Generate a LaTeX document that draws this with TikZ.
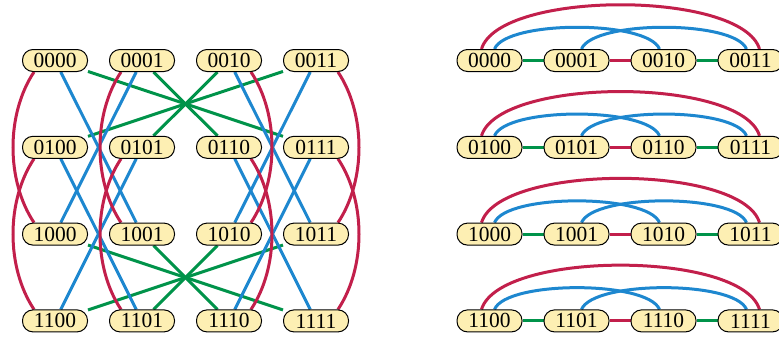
\documentclass[tikz,border=0pt]{standalone}
\usepackage{fontspec}
\setmainfont{Liberation Serif}
\usetikzlibrary{backgrounds}

\definecolor{hred}{HTML}{C21F4B}
\definecolor{hblue}{HTML}{1D87CF}
\definecolor{hgreen}{HTML}{00934A}
\definecolor{bitfill}{HTML}{FDEFB3}

\tikzset{
  bit/.style={draw=black, line width=1pt, fill=bitfill, rounded corners=10.5pt,
    minimum width=65pt, minimum height=22pt, inner sep=0pt,
    font=\fontsize{21.5}{21.5}\selectfont},
  redline/.style={draw=hred, line width=3pt},
  blueline/.style={draw=hblue, line width=3pt},
  greenline/.style={draw=hgreen, line width=3pt},
}

\begin{document}
\begin{tikzpicture}[x=1pt, y=-1pt]
\useasboundingbox (0,0) rectangle (779,338);

% grid layout on the left, chain layout on the right
\foreach \lbl/\c/\r in {0000/0/0,0001/1/0,0010/2/0,0011/3/0,
                        0100/0/1,0101/1/1,0110/2/1,0111/3/1,
                        1000/0/2,1001/1/2,1010/2/2,1011/3/2,
                        1100/0/3,1101/1/3,1110/2/3,1111/3/3}{
  \node[bit] (L\lbl) at ({55+87*\c}, {60.5+86.8*\r}) {\lbl};
}
\foreach \lbl/\c/\r in {0000/0/0,0001/1/0,0010/2/0,0011/3/0,
                        0100/0/1,0101/1/1,0110/2/1,0111/3/1,
                        1000/0/2,1001/1/2,1010/2/2,1011/3/2,
                        1100/0/3,1101/1/3,1110/2/3,1111/3/3}{
  \node[bit] (R\lbl) at ({489.5+87*\c}, {60.5+86.8*\r}) {\lbl};
}

\begin{scope}[on background layer]
  % green diagonals through the two crossing points
  \foreach \a/\b in {0000/0111,0001/0110,0010/0101,0011/0100,
                     1000/1111,1001/1110,1010/1101,1011/1100}{
    \draw[greenline] (L\a) -- (L\b);
  }
  % blue crossings between rows
  \foreach \a/\b in {0000/1001,0001/1000,0100/1101,0101/1100,
                     0010/1011,0011/1010,0110/1111,0111/1110}{
    \draw[blueline] (L\a) -- (L\b);
  }
  % red arcs bulging to the left
  \foreach \a/\b in {0000/1000,0100/1100,0001/1001,0101/1101}{
    \draw[redline] ([xshift=-21pt]L\a.south) .. controls +(-28,42) and +(-28,-42) .. ([xshift=-21pt]L\b.north);
  }
  % red arcs bulging to the right
  \foreach \a/\b in {0010/1010,0110/1110,0011/1011,0111/1111}{
    \draw[redline] ([xshift=22pt]L\a.south) .. controls +(28,42) and +(28,-42) .. ([xshift=22pt]L\b.north);
  }

  % chains on the right
  \foreach \p in {00,01,10,11}{
    \draw[greenline] (R\p00) -- (R\p01);
    \draw[redline] (R\p01) -- (R\p10);
    \draw[greenline] (R\p10) -- (R\p11);
    \draw[redline] ([xshift=-8pt]R\p00.north) .. controls +(18,-59) and +(-18,-59) .. ([xshift=9pt]R\p11.north);
    \draw[blueline] ([xshift=5pt]R\p00.north) .. controls +(12,-29) and +(-12,-29) .. ([xshift=-4pt]R\p10.north);
    \draw[blueline] ([xshift=5pt]R\p01.north) .. controls +(12,-29) and +(-12,-29) .. ([xshift=-4pt]R\p11.north);
  }
\end{scope}
\end{tikzpicture}
\end{document}
